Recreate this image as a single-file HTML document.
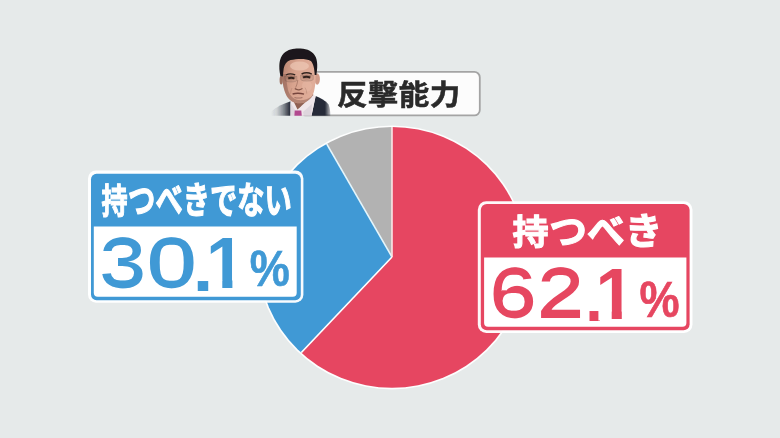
<!DOCTYPE html>
<html lang="ja">
<head>
<meta charset="utf-8">
<title>反撃能力</title>
<style>
html,body{margin:0;padding:0;background:#e6eaea;}
body{width:780px;height:438px;overflow:hidden;}
svg{display:block;}
.jp{font-family:"Liberation Sans","Noto Sans CJK JP",sans-serif;font-weight:700;}
.num{font-family:"Liberation Sans",sans-serif;font-weight:700;}
</style>
</head>
<body>
<svg width="780" height="438" viewBox="0 0 780 438">
<defs>
  <clipPath id="pc"><ellipse cx="392" cy="257.4" rx="133.2" ry="130.4"/></clipPath>
  <clipPath id="baseB"><path clip-rule="evenodd" d="M90 225H300V300H90ZM209 279.9H222.3V290H209ZM232.4 279.9H245V290H232.4Z"/></clipPath>
  <clipPath id="baseR"><path clip-rule="evenodd" d="M480 256H690V331H480ZM598.4 310.4H611.7V320.5H598.4ZM621.8 310.4H634.4V320.5H621.8Z"/></clipPath>
  <clipPath id="photoclip"><rect x="262" y="40" width="76" height="75.8"/></clipPath>
  <filter id="soft" x="-10%" y="-10%" width="120%" height="120%"><feGaussianBlur stdDeviation="0.7"/></filter>
  <linearGradient id="skin" x1="0" y1="0" x2="1" y2="0.25">
    <stop offset="0" stop-color="#b6806e"/><stop offset="0.45" stop-color="#d8a38e"/><stop offset="1" stop-color="#e0ad99"/>
  </linearGradient>
  <linearGradient id="sfg" gradientUnits="userSpaceOnUse" x1="271" y1="0" x2="331" y2="0">
    <stop offset="0" stop-color="#000"/><stop offset="0.1" stop-color="#222"/><stop offset="0.2" stop-color="#777"/><stop offset="0.32" stop-color="#fff"/><stop offset="0.9" stop-color="#fff"/><stop offset="1" stop-color="#333"/>
  </linearGradient>
  <mask id="shoulderfade" maskUnits="userSpaceOnUse" x="262" y="40" width="80" height="80"><rect x="262" y="40" width="80" height="80" fill="url(#sfg)"/></mask>
  <filter id="thinB" filterUnits="userSpaceOnUse" primitiveUnits="userSpaceOnUse" x="90" y="225" width="210" height="75">
    <feMorphology in="SourceGraphic" operator="erode" radius="2 0" result="e"/>
    <feFlood flood-color="#000" x="90" y="225" width="106.6" height="75" result="m"/>
    <feComposite in="e" in2="m" operator="in" result="ei"/>
    <feComposite in="SourceGraphic" in2="m" operator="out" result="so"/>
    <feMerge><feMergeNode in="ei"/><feMergeNode in="so"/></feMerge>
  </filter>
  <filter id="thinR" filterUnits="userSpaceOnUse" primitiveUnits="userSpaceOnUse" x="480" y="256" width="210" height="75">
    <feMorphology in="SourceGraphic" operator="erode" radius="2 0" result="e"/>
    <feFlood flood-color="#000" x="480" y="256" width="107" height="75" result="m"/>
    <feComposite in="e" in2="m" operator="in" result="ei"/>
    <feComposite in="SourceGraphic" in2="m" operator="out" result="so"/>
    <feMerge><feMergeNode in="ei"/><feMergeNode in="so"/></feMerge>
  </filter>
</defs>
<rect width="780" height="438" fill="#e6eaea"/>

<!-- pie chart -->
<g id="pie">
  <ellipse cx="392" cy="257.4" rx="134.8" ry="132" fill="#ffffff" opacity="0.92"/>
  <g clip-path="url(#pc)">
    <polygon points="392,257 392.0,-143.0 592.0,-89.4 738.4,57.0 792.0,257.0 738.4,457.0 592.0,603.4 392.0,657.0 192.0,603.4 116.7,547.1" fill="#e64661"/>
    <polygon points="392,257 116.7,547.1 16.1,393.8 -8,257 16.1,120.2 85.6,-0.1 192,-89.4" fill="#4099d5"/>
    <polygon points="392,257 192,-89.4 288.5,-129.4 392,-143" fill="#b2b2b2"/>
    <line x1="392" y1="257" x2="254.3" y2="402.1" stroke="#ffffff" stroke-width="1.6"/>
    <line x1="392" y1="257" x2="292" y2="83.8" stroke="#e4f5fb" stroke-width="1.6"/>
    <line x1="392" y1="257" x2="392" y2="57" stroke="#fbe6e6" stroke-width="1.6"/>
  </g>
</g>

<!-- title label -->
<g id="title">
  <rect x="300" y="71.9" width="179.8" height="43.5" rx="5.5" fill="#fcfcfc" stroke="#a4a4a4" stroke-width="1.8"/>
  <text class="jp" font-size="28.4" fill="#2a2a2a" stroke="#2a2a2a" stroke-width="0.5" letter-spacing="0.4" transform="translate(336.9,104.6) scale(1.075,1)">反撃能力</text>
</g>


<!-- portrait -->
<g id="portrait" clip-path="url(#photoclip)">
  <g filter="url(#soft)">
    <!-- suit / shoulders -->
    <g mask="url(#shoulderfade)">
      <path d="M270 117V112.5C276 107 284 103.5 290.6 101.3V117Z" fill="#262b39"/>
      <path d="M315.6 96C320 97.8 326 100.8 328.6 104.5C330 108 330.4 112 330.4 117H311.2Z" fill="#262b39"/>
    </g>
    <!-- shirt -->
    <path d="M290.6 101.3L292.3 98.6L297.5 109.5L313.2 94.8L315.7 96L311.3 117H290.6Z" fill="#efe6ea"/>
    <path d="M290.6 103L296 111.5L294.6 117H290.6ZM311.9 104L303 112L304 117H311.3Z" fill="#d9d2da" opacity="0.8"/>
    <!-- tie -->
    <path d="M294.7 110.4H301.3L301.9 117H294.3Z" fill="#b2488f"/>
    <!-- neck -->
    <path d="M288.5 92L312 90L313.3 95L297.5 109.5L292.3 98.8Z" fill="#8f6052"/>
    <!-- ears -->
    <ellipse cx="317.2" cy="79" rx="2.7" ry="5.8" fill="#d09a87"/>
    <ellipse cx="281.2" cy="80" rx="1.6" ry="4.5" fill="#9e6f60"/>
    <!-- face -->
    <path d="M281.8 72C281.4 61 288 56 299 56C310 56 316 61 315.7 72C315.9 80 315.4 86 314 91.5C312.4 97.5 307.5 103 300.3 103.3C293 103.3 288.4 99.8 286 94.5C283.5 89 282 80 281.8 72Z" fill="url(#skin)"/>
    <!-- shading left cheek & jaw -->
    <path d="M281.8 74C282.2 84 284 91 287 96.5C289.5 100.5 293.5 103.3 300.3 103.3C305.5 103 310 100 312.6 96C308 99.5 302.5 100.6 298 100C293 99 289.5 95 288 90C286.8 85 286.4 79 286.3 74Z" fill="#7d5247" opacity="0.42"/>
    <ellipse cx="307" cy="86" rx="5" ry="5.5" fill="#e8b9a6" opacity="0.5"/>
    <ellipse cx="299.5" cy="66" rx="9.5" ry="4.6" fill="#efcbb9" opacity="0.65"/>
    <!-- eye sockets -->
    <ellipse cx="291" cy="77.6" rx="4.6" ry="2.6" fill="#7a4d42" opacity="0.3"/>
    <ellipse cx="306.6" cy="76.8" rx="4.8" ry="2.6" fill="#7a4d42" opacity="0.26"/>
    <!-- hair -->
    <path d="M280.4 76C278.4 66 279 58 283.8 53.2C288.4 49 295 48.3 300.5 48.6C307.5 48.9 313 51.6 315.7 57C317.7 61.5 317.6 68 316.4 75L314.7 75C314.5 69 313.4 63.6 310.8 61C305.5 58 297 58.8 290.5 60C286.6 61.2 284.4 64.4 283.7 68.6C283.3 71.4 283.1 74 282.9 76.6Z" fill="#1b191a"/>
    <!-- brows / eyes / glasses -->
    <path d="M286 75C288.5 73.6 292 73.6 295.2 74.9" stroke="#33241f" stroke-width="1.4" fill="none"/>
    <path d="M301.6 74C304.5 72.6 308.8 72.6 311.8 74.1" stroke="#33241f" stroke-width="1.4" fill="none"/>
    <path d="M288.2 78.4C290 77.6 292.6 77.6 294.4 78.5M303 77.4C305 76.6 308 76.6 310.2 77.5" stroke="#2a1c19" stroke-width="1.9" fill="none"/>
    <path d="M284.6 76.3H296.8V80.6C295 82.4 287 82.4 285.2 80.6ZM300.6 75.3H313.2V79.6C311 81.6 302.6 81.6 300.8 79.6Z" stroke="#4e3c37" stroke-width="0.5" stroke-opacity="0.4" fill="#6b4f45" fill-opacity="0.12"/>
    <!-- nose -->
    <path d="M297.8 80C297.4 83 296.6 85.6 295.6 87.6" stroke="#8d5f50" stroke-width="1" fill="none" opacity="0.55"/>
    <path d="M294.8 88.6C296.4 89.8 297.6 89.4 298.6 89.9C299.8 89.4 301 89.8 302.4 88.4" stroke="#6f4338" stroke-width="1.2" fill="none" opacity="0.8"/>
    <path d="M292 88C291 90 290.6 92 290.8 94M305 87.6C306.2 89.6 306.8 91.6 306.6 93.6" stroke="#8d5f50" stroke-width="0.9" fill="none" opacity="0.3"/>
    <!-- mouth -->
    <path d="M292.6 94C295.5 93.1 300.5 93.1 304 94.2" stroke="#6a3a34" stroke-width="1.4" fill="none" opacity="0.9"/>
    <path d="M294.5 97.4C297 98.2 300 98.2 302.4 97.4" stroke="#7d5247" stroke-width="1.1" fill="none" opacity="0.6"/>
  </g>
</g>

<!-- blue box -->
<g id="bluebox">
  <rect x="88" y="170.4" width="215.4" height="132.3" rx="8" fill="#ffffff" opacity="0.96"/>
  <rect x="91" y="173.8" width="209.8" height="126.4" rx="5.5" fill="#4099d5"/>
  <path d="M93.8 226.6H296.7V292.7a4 4 0 0 1 -4 4H97.8a4 4 0 0 1 -4 -4Z" fill="#ffffff"/>
  <text class="jp" font-size="37" fill="#ffffff" stroke="#ffffff" stroke-width="1.1" transform="translate(101.6,214) scale(0.737,1)"><tspan font-size="35.4">持</tspan><tspan dx="0.6">つべきでない</tspan></text>
  <text class="num" fill="#4099d5" filter="url(#thinB)" clip-path="url(#baseB)"><tspan x="98.35" y="287.7" font-size="73" textLength="49.53" lengthAdjust="spacingAndGlyphs">3</tspan><tspan x="144.1" y="287.7" font-size="73" textLength="55.62" lengthAdjust="spacingAndGlyphs">0</tspan><tspan x="192.8" y="290.5" font-size="66" textLength="20.55" lengthAdjust="spacingAndGlyphs">.</tspan><tspan x="206.1" y="288" font-size="72" textLength="39.03" lengthAdjust="spacingAndGlyphs">1</tspan><tspan x="249.8" y="286.3" font-size="50.7" textLength="40.11" lengthAdjust="spacingAndGlyphs" stroke="#4099d5" stroke-width="0.6">%</tspan></text>
</g>

<!-- red box -->
<g id="redbox">
  <rect x="477.8" y="201.2" width="214.7" height="131.7" rx="8.5" fill="#ffffff" opacity="0.96"/>
  <rect x="480.8" y="204" width="208.8" height="126.2" rx="6" fill="#e64661"/>
  <path d="M484.1 257.6H686.4V322.7a4 4 0 0 1 -4 4H488.1a4 4 0 0 1 -4 -4Z" fill="#ffffff"/>
  <text class="jp" font-size="37" fill="#ffffff" stroke="#ffffff" stroke-width="1.1" transform="translate(512.6,244.8) scale(1.02,1)"><tspan font-size="35.4">持</tspan><tspan dx="0.6">つべき</tspan></text>
  <text class="num" fill="#e64661" filter="url(#thinR)" clip-path="url(#baseR)"><tspan x="488.3" y="318.4" font-size="73" textLength="50.14" lengthAdjust="spacingAndGlyphs">6</tspan><tspan x="535.9" y="318.4" font-size="73" textLength="49.61" lengthAdjust="spacingAndGlyphs">2</tspan><tspan x="584.4" y="321.1" font-size="66" textLength="20.55" lengthAdjust="spacingAndGlyphs">.</tspan><tspan x="595.5" y="318.5" font-size="72" textLength="39.03" lengthAdjust="spacingAndGlyphs">1</tspan><tspan x="639.6" y="317" font-size="50.7" textLength="40.11" lengthAdjust="spacingAndGlyphs" stroke="#e64661" stroke-width="0.6">%</tspan></text>
</g>
</svg>
</body>
</html>
